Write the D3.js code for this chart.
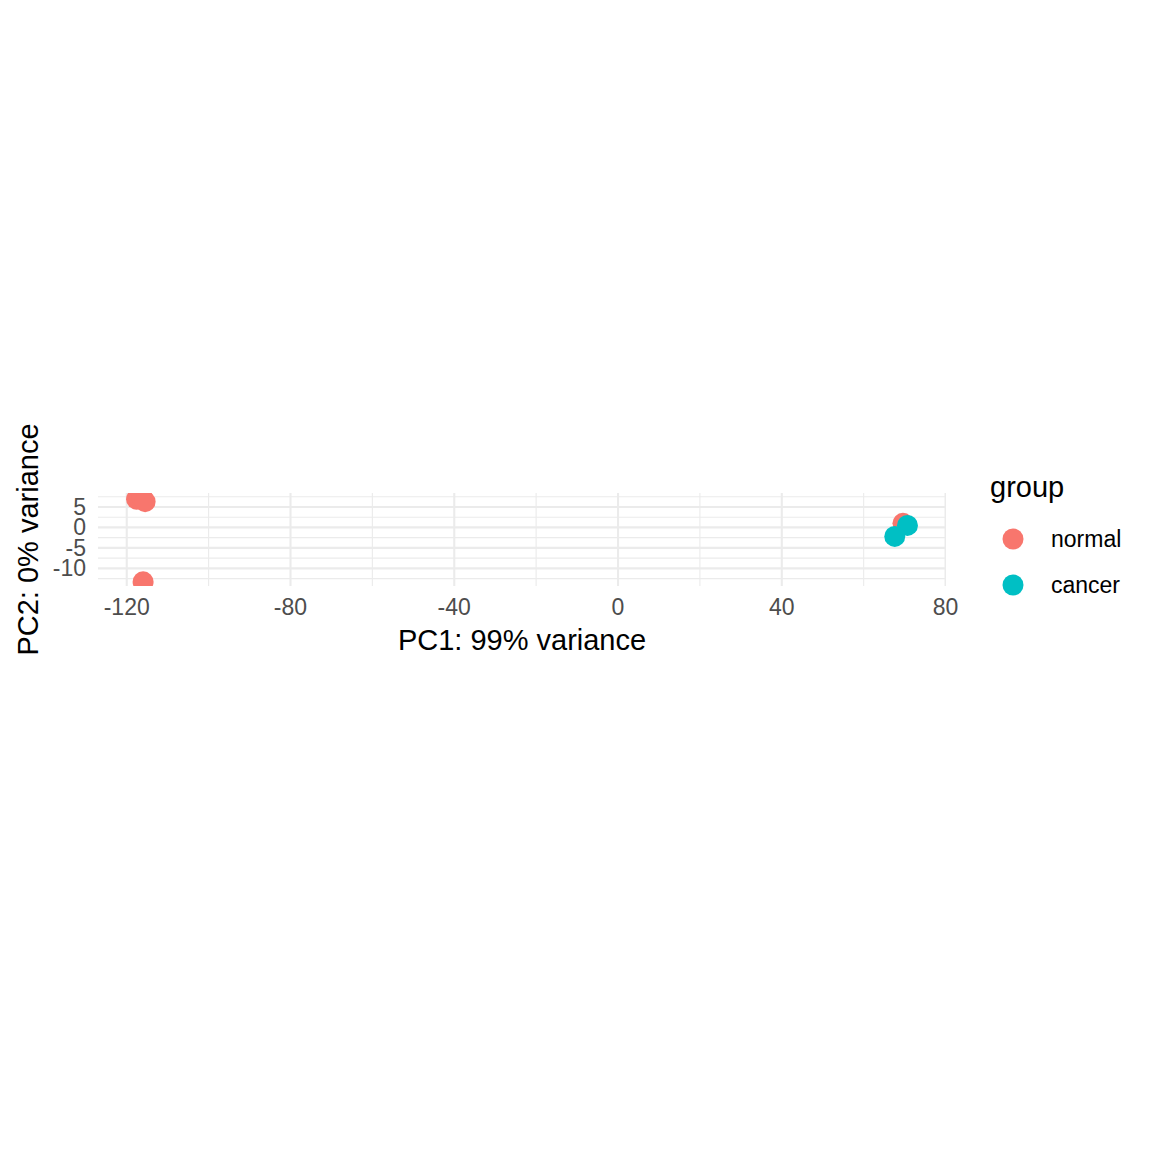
<!DOCTYPE html>
<html>
<head>
<meta charset="utf-8">
<script src="https://cdn.jsdelivr.net/npm/d3@7"></script>
<style>
	body { margin: 0; background: #fff; }
	svg text { font-family: "Liberation Sans", Arial, sans-serif; }
</style>
</head>
<body>
<script>
// sample scores on the first two principal components
var groups = ['normal', 'cancer'];
var sampleGroup = ['normal', 'normal', 'normal', 'normal', 'normal', 'cancer', 'cancer'];
var pc1 = [-117.6, -116.3, -115.5, -116.0, 69.6, 70.7, 67.6];
var pc2 = [6.9, 7.4, 6.3, -13.3, 1.0, 0.5, -2.2];

var xTicks = [-120, -80, -40, 0, 40, 80];
var xMinor = [-100, -60, -20, 20, 60];
var yTicks = [5, 0, -5, -10];
var yMinor = [7.5, 2.5, -2.5, -7.5, -12.5];

var colors = ['#F8766D', '#00BFC4'];

var W = 1152, H = 1152;

// ggplot style 5% expansion on each side
function expand(ext) {
	var pad = (ext[1] - ext[0]) * 0.05;
	return [ext[0] - pad, ext[1] + pad];
}
var xDom = expand(d3.extent(pc1));
var yDom = expand(d3.extent(pc2));

// fixed aspect ratio: same px per unit on both axes
var panelLeft = 98,
	panelWidth = 848,
	k = panelWidth / (xDom[1] - xDom[0]),
	panelHeight = k * (yDom[1] - yDom[0]),
	panelTop = 539.5 - panelHeight / 2;

var x = d3.scaleLinear().domain(xDom).range([panelLeft, panelLeft + panelWidth]);
var y = d3.scaleLinear().domain(yDom).range([panelTop + panelHeight, panelTop]);
var color = d3.scaleOrdinal().domain(groups).range(colors);

var svg = d3.select('body')
	.append('svg')
	.attr('width', W)
	.attr('height', H);

svg.append('rect').attr('width', W).attr('height', H).attr('fill', '#fff');

svg.append('defs').append('clipPath')
	.attr('id', 'panel-clip')
	.append('rect')
	.attr('x', panelLeft)
	.attr('y', panelTop)
	.attr('width', panelWidth)
	.attr('height', panelHeight);

var panel = svg.append('g').attr('clip-path', 'url(#panel-clip)');

// keep gridlines that fall inside the panel (tiny tolerance at edges)
function inside(dom) {
	return function(v) { return v >= dom[0] - 0.2 && v <= dom[1] + 0.2; };
}

// minor grid
panel.selectAll('.xminor')
	.data(xMinor.filter(inside(xDom)))
	.enter().append('line')
	.attr('x1', function(d) { return x(d); })
	.attr('x2', function(d) { return x(d); })
	.attr('y1', panelTop)
	.attr('y2', panelTop + panelHeight)
	.style('stroke', '#EBEBEB')
	.style('stroke-width', 1.1);

panel.selectAll('.yminor')
	.data(yMinor.filter(inside(yDom)))
	.enter().append('line')
	.attr('x1', panelLeft)
	.attr('x2', panelLeft + panelWidth)
	.attr('y1', function(d) { return y(d); })
	.attr('y2', function(d) { return y(d); })
	.style('stroke', '#EBEBEB')
	.style('stroke-width', 1.1);

// major grid
panel.selectAll('.xmajor')
	.data(xTicks.filter(inside(xDom)))
	.enter().append('line')
	.attr('x1', function(d) { return x(d); })
	.attr('x2', function(d) { return x(d); })
	.attr('y1', panelTop)
	.attr('y2', panelTop + panelHeight)
	.style('stroke', '#EBEBEB')
	.style('stroke-width', 2.1);

panel.selectAll('.ymajor')
	.data(yTicks)
	.enter().append('line')
	.attr('x1', panelLeft)
	.attr('x2', panelLeft + panelWidth)
	.attr('y1', function(d) { return y(d); })
	.attr('y2', function(d) { return y(d); })
	.style('stroke', '#EBEBEB')
	.style('stroke-width', 2.1);

// points, in row order
panel.selectAll('.pt')
	.data(d3.range(pc1.length))
	.enter().append('circle')
	.attr('cx', function(i) { return x(pc1[i]); })
	.attr('cy', function(i) { return y(pc2[i]); })
	.attr('r', 10.5)
	.style('fill', function(i) { return color(sampleGroup[i]); });

// axis tick labels
svg.selectAll('.xlab')
	.data(xTicks)
	.enter().append('text')
	.attr('x', function(d) { return x(d); })
	.attr('y', 615)
	.attr('text-anchor', 'middle')
	.style('font-size', '23px')
	.style('fill', '#4D4D4D')
	.text(function(d) { return d; });

svg.selectAll('.ylab')
	.data(yTicks)
	.enter().append('text')
	.attr('x', 86)
	.attr('y', function(d) { return y(d) + 8; })
	.attr('text-anchor', 'end')
	.style('font-size', '23px')
	.style('fill', '#4D4D4D')
	.text(function(d) { return d; });

// axis titles
svg.append('text')
	.attr('x', panelLeft + panelWidth / 2)
	.attr('y', 650)
	.attr('text-anchor', 'middle')
	.style('font-size', '29px')
	.style('fill', '#000')
	.text('PC1: 99% variance');

svg.append('text')
	.attr('transform', `translate(38, ${panelTop + panelHeight / 2}) rotate(-90)`)
	.attr('text-anchor', 'middle')
	.style('font-size', '29px')
	.style('fill', '#000')
	.text('PC2: 0% variance');

// legend
var legend = svg.append('g').attr('transform', 'translate(990, 0)');

legend.append('text')
	.attr('x', 0)
	.attr('y', 497)
	.style('font-size', '29px')
	.style('fill', '#000')
	.text('group');

var keys = legend.selectAll('.key')
	.data(groups)
	.enter().append('g')
	.attr('transform', function(d, i) { return `translate(0, ${539 + i * 46})`; });

keys.append('circle')
	.attr('cx', 23)
	.attr('cy', 0)
	.attr('r', 10.5)
	.style('fill', function(d) { return color(d); });

keys.append('text')
	.attr('x', 61)
	.attr('y', 8)
	.style('font-size', '23px')
	.style('fill', '#000')
	.text(function(d) { return d; });
</script>
</body>
</html>
